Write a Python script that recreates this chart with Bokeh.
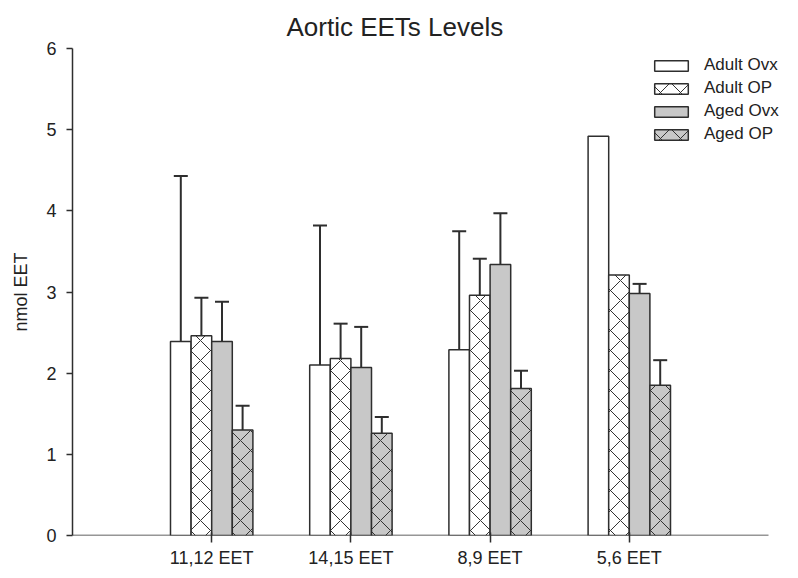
from bokeh.plotting import figure
from bokeh.models import Range1d, FixedTicker, ColumnDataSource, Whisker, TeeHead, Legend, LegendItem
from bokeh.embed import file_html
from bokeh.resources import INLINE

categories = ["11,12 EET", "14,15 EET", "8,9 EET", "5,6 EET"]
series = ["Adult Ovx", "Adult OP", "Aged Ovx", "Aged OP"]
adult_ovx = [2.39, 2.10, 2.29, 4.92]
adult_ovx_err = [2.04, 1.72, 1.46, None]
adult_op = [2.46, 2.18, 2.96, 3.21]
adult_op_err = [0.47, 0.43, 0.45, None]
aged_ovx = [2.39, 2.07, 3.34, 2.98]
aged_ovx_err = [0.49, 0.50, 0.63, 0.12]
aged_op = [1.30, 1.26, 1.81, 1.85]
aged_op_err = [0.30, 0.20, 0.22, 0.31]
y_ticks = [0, 1, 2, 3, 4, 5, 6]

FONT = "Liberation Sans"
LINE = "#2e2e2e"
GREY = "#c8c8c8"

# axis extent in category units (categories sit at 1..4), frame runs a bit further right for the legend
x_lo, x_hi = 0, 5
frame_w_axis = 696
left_b, top_b, right_b, bot_b = 72, 48, 0, 43
W, H = 798, 578
frame_w = W - left_b - right_b
x_view_hi = x_lo + (x_hi - x_lo) * frame_w / frame_w_axis

p = figure(width=W, height=H, x_range=Range1d(x_lo, x_view_hi), y_range=Range1d(0, 6),
           output_backend="svg", toolbar_location=None,
           min_border_left=left_b, min_border_right=right_b, min_border_top=top_b,
           min_border_bottom=bot_b)
p.outline_line_color = None
p.xgrid.visible = False
p.ygrid.visible = False

p.title.text = "Aortic EETs Levels"
p.title.align = "left"
p.title.vertical_align = "top"
p.title.text_font = FONT
p.title.text_font_size = "26px"
p.title.text_font_style = "normal"
p.title.text_color = "#222222"
p.title.offset = 214
p.title.standoff = 10

pos = list(range(1, len(categories) + 1))
bw = 0.148
offsets = [-1.5 * bw, -0.5 * bw, 0.5 * bw, 1.5 * bw]
vals = [adult_ovx, adult_op, aged_ovx, aged_op]
errs = [adult_ovx_err, adult_op_err, aged_ovx_err, aged_op_err]
fills = ["white", "white", GREY, GREY]
hatches = [None, "diagonal_cross", None, "diagonal_cross"]

# x axis baseline (only across the axis extent, not under the legend overhang)
p.segment(x0=[x_lo], y0=[0], x1=[x_hi], y1=[0], line_color=LINE, line_width=1.5)

items = []
for s, v, e, fc, h, off in zip(series, vals, errs, fills, hatches, offsets):
    xs = [c + off for c in pos]
    src = ColumnDataSource(dict(x=xs, top=v))
    kw = dict(x="x", top="top", width=bw, source=src, fill_color=fc,
              line_color=LINE, line_width=1.5)
    if h:
        kw.update(hatch_pattern=h, hatch_color="#333333", hatch_scale=20, hatch_weight=1.0)
    r = p.vbar(**kw)
    items.append(LegendItem(label=s, renderers=[r]))
    ex = [x for x, ee in zip(xs, e) if ee is not None]
    lo = [vv for vv, ee in zip(v, e) if ee is not None]
    up = [vv + ee for vv, ee in zip(v, e) if ee is not None]
    esrc = ColumnDataSource(dict(x=ex, lower=lo, upper=up))
    w = Whisker(source=esrc, base="x", lower="lower", upper="upper", dimension="height",
                line_color=LINE, line_width=2, lower_head=None,
                upper_head=TeeHead(size=14, line_color=LINE, line_width=2))
    p.add_layout(w)

legend = Legend(items=items, location=(578, 391), padding=0, margin=0,
                border_line_color=None, background_fill_alpha=0,
                glyph_width=42, glyph_height=13, label_height=13, spacing=3,
                label_text_font=FONT, label_text_font_size="17px", label_text_color="#222222",
                label_standoff=12)
p.add_layout(legend)

p.xaxis.ticker = FixedTicker(ticks=pos)
p.xaxis.major_label_overrides = {c: lab for c, lab in zip(pos, categories)}
p.xaxis.minor_tick_line_color = None
p.xaxis.axis_line_color = None
p.xaxis.major_tick_in = 3
p.xaxis.major_tick_out = 7
p.xaxis.major_label_standoff = 5

p.yaxis.ticker = FixedTicker(ticks=y_ticks)
p.yaxis.minor_tick_line_color = None
p.yaxis.axis_line_color = LINE
p.yaxis.major_tick_in = 0
p.yaxis.major_tick_out = 6
p.yaxis.major_label_standoff = 10
p.yaxis.axis_label = "nmol EET"
p.yaxis.axis_label_standoff = 12

for ax in (p.xaxis, p.yaxis):
    ax.axis_line_width = 1.5
    ax.major_tick_line_color = LINE
    ax.major_tick_line_width = 1.5
    ax.major_label_text_font = FONT
    ax.major_label_text_font_size = "18px"
    ax.major_label_text_color = "#222222"
    ax.axis_label_text_font = FONT
    ax.axis_label_text_font_size = "18px"
    ax.axis_label_text_font_style = "normal"
    ax.axis_label_text_color = "#222222"

open("out.html", "w").write(file_html(p, INLINE))
